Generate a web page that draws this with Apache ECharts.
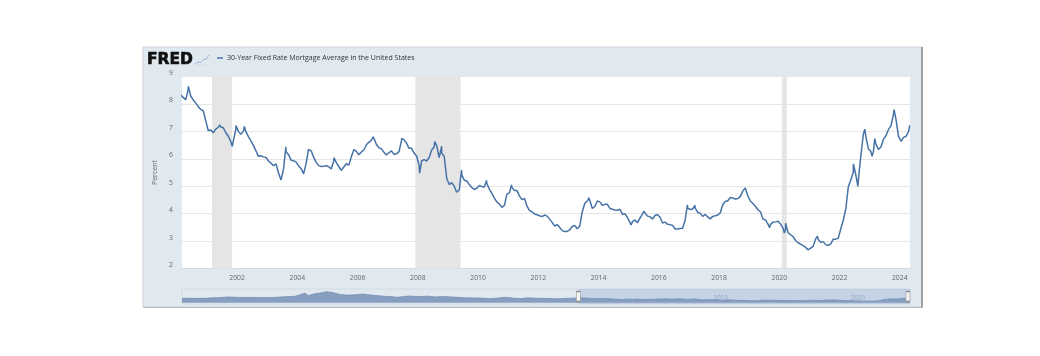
<!DOCTYPE html>
<html><head><meta charset="utf-8">
<script src="https://cdn.jsdelivr.net/npm/echarts@6/dist/echarts.min.js"></script>
<style>html,body{margin:0;padding:0;background:#fff}#c{width:1040px;height:356px}</style>
</head><body><div id="c"></div>
<script>
// ---------- DATA ----------
const seriesName = '30-Year Fixed Rate Mortgage Average in the United States';
const axisName = 'Percent';
const tickYears = [2002, 2004, 2006, 2008, 2010, 2012, 2014, 2016, 2018, 2020, 2022, 2024];
const navTickYears = [2010, 2020];
const viewStart = 2000.17;
const viewEnd = 2024.34;
const navStart = 1971.3;
const navEnd = 2024.34;
// recessions [start, end] in decimal years
const recessions = [[2001.167, 2001.833], [2007.917, 2009.417], [2020.083, 2020.25]];

// history before 2000 (decimal year, percent) - only seen in navigator
const history = [
  [1971.3, 7.33], [1971.6, 7.7], [1972.0, 7.4], [1972.5, 7.4], [1973.0, 7.45], [1973.6, 8.5],
  [1974.0, 8.5], [1974.7, 9.8], [1975.0, 9.4], [1975.5, 8.9], [1976.0, 8.9], [1976.5, 8.9],
  [1977.0, 8.7], [1977.5, 8.8], [1978.0, 8.95], [1978.5, 9.7], [1979.0, 10.4], [1979.5, 10.8],
  [1979.85, 12.9], [1980.25, 16.3], [1980.5, 12.2], [1980.95, 14.9], [1981.5, 16.8], [1981.8, 18.45],
  [1982.2, 17.4], [1982.8, 14.0], [1983.3, 12.8], [1983.9, 13.4], [1984.5, 14.7], [1985.0, 13.1],
  [1985.5, 12.1], [1986.0, 10.9], [1986.5, 10.3], [1987.0, 9.2], [1987.8, 11.3], [1988.5, 10.4],
  [1989.2, 11.1], [1989.8, 9.8], [1990.4, 10.4], [1991.0, 9.6], [1991.9, 8.4], [1992.5, 8.2],
  [1993.0, 7.9], [1993.8, 6.8], [1994.9, 9.2], [1995.5, 7.6], [1996.0, 7.0], [1996.5, 8.3],
  [1997.0, 7.7], [1997.9, 7.1], [1998.8, 6.7], [1999.5, 7.6], [1999.95, 8.0]
];

// monthly averages, Jan..Dec
const firstMonthlyYear = 2000;
const m2000 = [8.21,8.33,8.24,8.15,8.52,8.29,8.15,8.03,7.91,7.80,7.75,7.38];
const m2001 = [7.03,7.05,6.95,7.08,7.15,7.16,7.13,6.95,6.82,6.62,6.66,7.07];
const m2002 = [7.00,6.89,7.01,6.99,6.81,6.65,6.49,6.29,6.09,6.11,6.07,6.05];
const m2003 = [5.92,5.84,5.75,5.81,5.48,5.23,5.63,6.26,6.15,5.95,5.93,5.88];
const m2004 = [5.74,5.64,5.45,5.83,6.27,6.29,6.06,5.87,5.75,5.72,5.73,5.75];
const m2005 = [5.71,5.63,5.93,5.86,5.72,5.58,5.70,5.82,5.77,6.07,6.33,6.27];
const m2006 = [6.15,6.25,6.32,6.51,6.60,6.68,6.76,6.52,6.40,6.36,6.24,6.14];
const m2007 = [6.22,6.29,6.16,6.18,6.26,6.66,6.70,6.57,6.38,6.38,6.21,6.10];
const m2008 = [5.76,5.92,5.97,5.92,6.04,6.32,6.43,6.48,6.04,6.20,6.09,5.29];
const m2009 = [5.06,5.13,5.00,4.81,4.86,5.42,5.22,5.19,5.06,4.95,4.88,4.93];
const m2010 = [5.03,4.99,4.97,5.10,4.89,4.74,4.56,4.43,4.35,4.23,4.30,4.71];
const m2011 = [4.76,4.95,4.84,4.84,4.64,4.51,4.55,4.27,4.11,4.07,3.99,3.96];
const m2012 = [3.92,3.89,3.95,3.91,3.80,3.68,3.55,3.60,3.50,3.38,3.35,3.35];
const m2013 = [3.41,3.53,3.57,3.45,3.54,4.07,4.37,4.46,4.49,4.19,4.26,4.46];
const m2014 = [4.43,4.30,4.34,4.34,4.19,4.16,4.13,4.12,4.16,3.98,4.00,3.86];
const m2015 = [3.67,3.71,3.77,3.67,3.84,3.98,4.05,3.91,3.89,3.80,3.94,3.96];
const m2016 = [3.87,3.66,3.69,3.61,3.60,3.57,3.44,3.44,3.46,3.47,3.77,4.20];
const m2017 = [4.15,4.17,4.20,4.05,4.01,3.90,3.97,3.88,3.81,3.90,3.92,3.95];
const m2018 = [4.03,4.33,4.44,4.47,4.59,4.57,4.53,4.55,4.63,4.83,4.87,4.64];
const m2019 = [4.46,4.37,4.27,4.14,4.07,3.80,3.77,3.62,3.61,3.69,3.70,3.72];
const m2020 = [3.62,3.47,3.45,3.31,3.23,3.16,3.02,2.94,2.89,2.83,2.77,2.68];
const m2021 = [2.74,2.81,3.08,3.06,2.96,2.98,2.87,2.84,2.90,3.07,3.07,3.10];
const m2022 = [3.45,3.76,4.17,4.98,5.23,5.52,5.41,5.22,6.11,6.90,6.81,6.36];
const m2023 = [6.27,6.26,6.54,6.34,6.43,6.71,6.84,7.07,7.20,7.62,7.44,6.82];
const m2024 = [6.64,6.78,6.82,6.99];
const monthlyByYear = [m2000,m2001,m2002,m2003,m2004,m2005,m2006,m2007,m2008,m2009,m2010,m2011,
  m2012,m2013,m2014,m2015,m2016,m2017,m2018,m2019,m2020,m2021,m2022,m2023,m2024];

// weekly highs / lows (decimal year, percent)
const weeklyExtremes = [
  [2000.38, 8.64], [2001.42, 7.24], [2001.84, 6.45], [2001.96, 7.21], [2002.24, 7.18],
  [2003.46, 5.21], [2003.62, 6.44], [2004.22, 5.40], [2004.37, 6.34], [2005.22, 6.04],
  [2005.46, 5.53], [2006.52, 6.80], [2007.46, 6.74], [2008.06, 5.48], [2008.56, 6.63],
  [2008.79, 6.46], [2009.29, 4.78], [2009.45, 5.59], [2010.28, 5.21], [2010.85, 4.17],
  [2011.11, 5.05], [2012.90, 3.31], [2013.68, 4.58], [2015.08, 3.59], [2015.50, 4.09],
  [2016.56, 3.41], [2016.95, 4.32], [2017.20, 4.30], [2018.87, 4.94], [2019.68, 3.49],
  [2020.17, 3.29], [2020.21, 3.65], [2021.01, 2.65], [2021.27, 3.18], [2022.46, 5.81],
  [2022.61, 4.99], [2022.84, 7.08], [2023.08, 6.09], [2023.17, 6.73], [2023.30, 6.27],
  [2023.81, 7.79], [2024.09, 6.60], [2024.33, 7.22]
];

// ---------- BUILD ----------
const points = history.slice();
monthlyByYear.forEach((arr, yi) => arr.forEach((v, mi) => {
  points.push([firstMonthlyYear + yi + (mi + 0.5) / 12, v]);
}));
weeklyExtremes.forEach(p => points.push(p));
points.sort((a, b) => a[0] - b[0]);

const LINE = '#4572a7';
const chart = echarts.init(document.getElementById('c'));
const option = {
  animation: false,
  backgroundColor: '#ffffff',
  textStyle: { fontFamily: '"Open Sans", "DejaVu Sans", sans-serif' },
  graphic: [
    { type: 'rect', z: -10, shape: { x: 143, y: 47, width: 779, height: 260 },
      style: { fill: '#e1e9f0', stroke: '#cfd5db', lineWidth: 1 } },
    { type: 'line', z: -9, shape: { x1: 922, y1: 47, x2: 922, y2: 308 }, style: { stroke: '#8c8c8c', lineWidth: 1.5 } },
    { type: 'line', z: -9, shape: { x1: 143, y1: 307.5, x2: 922, y2: 307.5 }, style: { stroke: '#b5b9bd', lineWidth: 1 } },
    { type: 'text', z: 10, style: { x: 147, y: 59.5, text: 'FRED', fill: '#111111',
      font: 'bold 15.5px "DejaVu Sans"', verticalAlign: 'middle', stroke: '#111111', lineWidth: 0.6 } },
    { type: 'polyline', z: 10, shape: { points: [[195, 64], [198, 62], [201, 62.5], [204, 59], [206, 59.5], [209, 55]] },
      style: { stroke: '#9db9d9', lineWidth: 1, fill: null } },
    { type: 'polyline', z: 10, shape: { points: [[195, 65], [209, 65]] }, style: { stroke: '#c5ccd4', lineWidth: 0.8, lineDash: [1, 1] } }
  ],
  legend: {
    left: 217, top: 54.5, padding: 0, icon: 'rect', itemWidth: 6, itemHeight: 1.5,
    itemGap: 5, selectedMode: false,
    textStyle: { fontSize: 7, color: '#333', padding: [0, 0, 0, -1] },
    data: [seriesName]
  },
  grid: [
    { left: 182, right: 130, top: 76.5, height: 192, show: true, backgroundColor: '#ffffff', borderWidth: 0 },
    { left: 182, right: 130, top: 289, height: 15, show: true, backgroundColor: 'rgba(0,0,0,0)', borderColor: '#cdd5de', borderWidth: 0.8 }
  ],
  xAxis: [
    { type: 'value', gridIndex: 0, min: viewStart, max: viewEnd,
      axisLabel: { customValues: tickYears, formatter: v => String(Math.round(v)), fontSize: 6.8, color: '#666', margin: 6 },
      axisTick: { show: false }, axisLine: { lineStyle: { color: '#d3dae2' } }, splitLine: { show: false } },
    { type: 'value', gridIndex: 1, min: navStart, max: navEnd,
      axisLabel: { customValues: navTickYears, formatter: v => String(Math.round(v)), inside: true, align: 'left',
        fontSize: 6.5, color: '#a3b3c8', margin: 2 },
      axisTick: { show: false }, axisLine: { show: false }, splitLine: { show: false } }
  ],
  yAxis: [
    { type: 'value', gridIndex: 0, min: 2, max: 9, interval: 1,
      name: axisName, nameLocation: 'middle', nameGap: 23, nameTextStyle: { fontSize: 7, color: '#666' },
      axisLabel: { fontSize: 6.8, color: '#666', margin: 9, verticalAlign: 'bottom' },
      axisLine: { show: false }, axisTick: { show: false },
      splitLine: { lineStyle: { color: '#e6e6e6', width: 1 } } },
    { type: 'value', gridIndex: 1, min: -2, max: 23, show: false, splitLine: { show: false } }
  ],
  series: [
    { type: 'line', name: seriesName, xAxisIndex: 0, yAxisIndex: 0, data: points, showSymbol: false,
      clip: true, z: 3,
      lineStyle: { color: LINE, width: 1.5 }, itemStyle: { color: LINE },
      markArea: { silent: true, itemStyle: { color: '#e5e5e6' },
        data: recessions.map(r => [{ xAxis: r[0] }, { xAxis: r[1] }]) } },
    { type: 'line', name: 'navigator', xAxisIndex: 1, yAxisIndex: 1, data: points, showSymbol: false, z: 2,
      lineStyle: { color: '#6f8ab2', width: 0.7 }, areaStyle: { color: '#879ec0', opacity: 1 }, itemStyle: { color: '#879ec0' } },
    { type: 'line', name: 'window', xAxisIndex: 1, yAxisIndex: 1, data: [], z: 4, silent: true,
      markArea: { silent: true, itemStyle: { color: 'rgba(102,133,194,0.22)' },
        data: [[{ xAxis: viewStart }, { xAxis: viewEnd }]] },
      markPoint: { silent: true, symbol: 'rect', symbolSize: [4, 10],
        itemStyle: { color: '#f4f4f4', borderColor: '#8f8f8f', borderWidth: 0.8 }, label: { show: false },
        data: [{ coord: [viewStart, 10.5] }, { coord: [viewEnd - 0.15, 10.5] }] } }
  ]
};
chart.setOption(option);
</script></body></html>
